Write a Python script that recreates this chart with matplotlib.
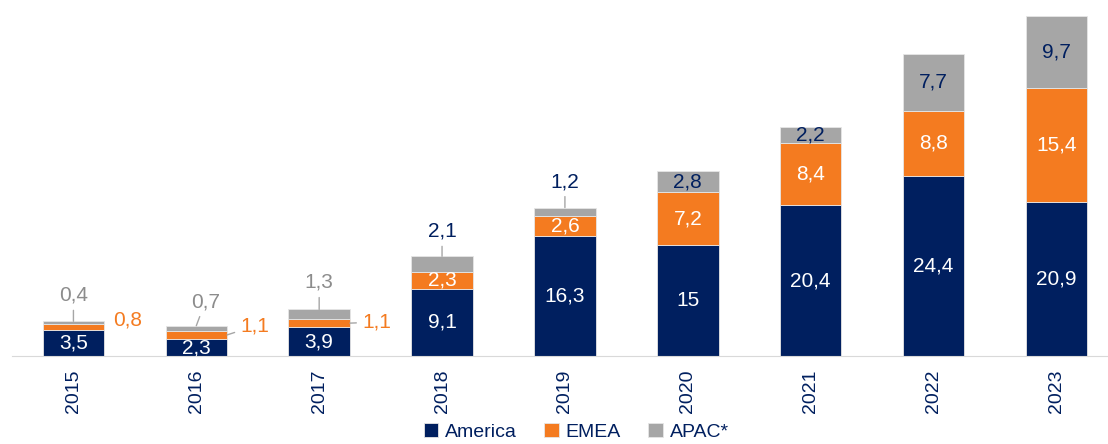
import numpy as np
import matplotlib.pyplot as plt

years = ['2015', '2016', '2017', '2018', '2019', '2020', '2021', '2022', '2023']
america = [3.5, 2.3, 3.9, 9.1, 16.3, 15, 20.4, 24.4, 20.9]
emea = [0.8, 1.1, 1.1, 2.3, 2.6, 7.2, 8.4, 8.8, 15.4]
apac = [0.4, 0.7, 1.3, 2.1, 1.2, 2.8, 2.2, 7.7, 9.7]

navy = '#001f5f'
orange = '#f47b20'
grey = '#a6a6a6'
plt.rcParams['font.family'] = ['Liberation Sans', 'DejaVu Sans']


def fmt(v):
    s = ('%g' % v).replace('.', ',')
    return s


fig = plt.figure(figsize=(11.08, 4.44), dpi=100)
ax = fig.add_axes([12 / 1108, 88 / 444, 1 - 12 / 1108, 356 / 444])

x = np.arange(len(years))
a = np.array(america)
e = np.array(emea)
p = np.array(apac)
w = 0.5
ax.bar(x, a, w, color=navy, edgecolor='#e6e6e6', linewidth=0.6, label='America')
ax.bar(x, e, w, bottom=a, color=orange, edgecolor='#e6e6e6', linewidth=0.6, label='EMEA')
ax.bar(x, p, w, bottom=a + e, color=grey, edgecolor='#e6e6e6', linewidth=0.6, label='APAC*')

fs = 15
for i in range(len(years)):
    ax.text(x[i], a[i] / 2, fmt(a[i]), ha='center', va='center', color='white', fontsize=fs)
    if i >= 3:
        ax.text(x[i], a[i] + e[i] / 2, fmt(e[i]), ha='center', va='center', color='white', fontsize=fs)
    if i >= 5:
        ax.text(x[i], a[i] + e[i] + p[i] / 2, fmt(p[i]), ha='center', va='center', color=navy, fontsize=fs)

# APAC labels above small bars
apac_off = [(0, 26), (9, 24), (0, 27), (0, 25), (0, 26)]
apac_col = ['#8c8c8c', '#8c8c8c', '#8c8c8c', navy, navy]
for i in range(5):
    top = a[i] + e[i] + p[i]
    ax.annotate(fmt(p[i]), xy=(x[i], top), xytext=apac_off[i], textcoords='offset pixels',
                ha='center', va='center', color=apac_col[i], fontsize=fs,
                arrowprops=dict(arrowstyle='-', color='#a6a6a6', lw=1, shrinkA=2, shrinkB=0))

# EMEA labels beside small bars
emea_off = [(9, 7), (13, 9), (12, 1)]
for i in range(3):
    mid = a[i] + e[i] / 2
    if i == 0:
        ax.annotate(fmt(e[i]), xy=(x[i] + w / 2, mid), xytext=emea_off[i], textcoords='offset pixels',
                    ha='left', va='center', color=orange, fontsize=fs)
    else:
        ax.annotate(fmt(e[i]), xy=(x[i] + w / 2, mid), xytext=emea_off[i], textcoords='offset pixels',
                    ha='left', va='center', color=orange, fontsize=fs,
                    arrowprops=dict(arrowstyle='-', color='#a6a6a6', lw=1, shrinkA=2, shrinkB=0))

ax.set_xlim(-0.5, 8.42)
ax.set_ylim(0, 48.2)
ax.set_xticks(x)
ax.set_xticklabels(years, rotation=90, color=navy, fontsize=14)
ax.tick_params(axis='x', length=0, pad=10)
ax.set_yticks([])
for s in ['top', 'right', 'left']:
    ax.spines[s].set_visible(False)
ax.spines['bottom'].set_color('#d9d9d9')

fig.legend(loc='lower center', bbox_to_anchor=(0.52, -0.032), ncol=3, frameon=False,
           fontsize=14, handlelength=0.75, handleheight=0.75, handletextpad=0.35,
           columnspacing=1.4, labelcolor=navy)

fig.savefig('out.png', dpi=100)
